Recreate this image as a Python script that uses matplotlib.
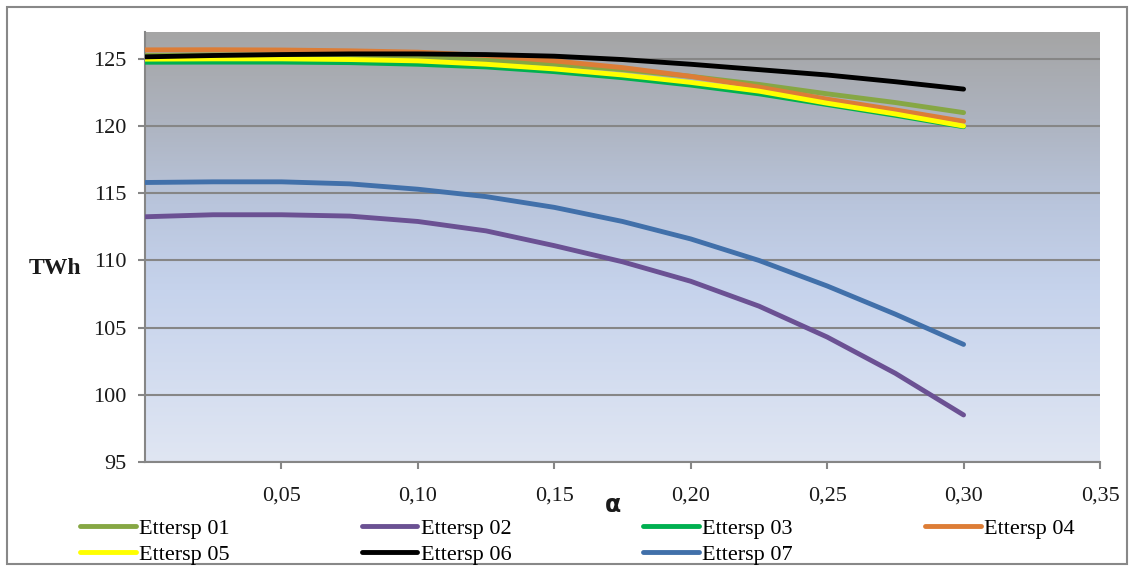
import numpy as np
import matplotlib.pyplot as plt
from matplotlib.colors import LinearSegmentedColormap
from matplotlib.patches import Rectangle

# Datos: energía (TWh) en función de alfa para cada escenario
alfa = [0.0, 0.025, 0.05, 0.075, 0.10, 0.125, 0.15, 0.175, 0.20, 0.225, 0.25, 0.275, 0.30]

ettersp_01 = [125.25, 125.3, 125.3, 125.25, 125.1, 124.9, 124.6, 124.2, 123.7, 123.1, 122.4, 121.75, 121.0]
ettersp_02 = [113.25, 113.4, 113.4, 113.3, 112.9, 112.2, 111.1, 109.9, 108.45, 106.6, 104.3, 101.6, 98.5]
ettersp_03 = [124.75, 124.76, 124.76, 124.72, 124.6, 124.4, 124.05, 123.6, 123.05, 122.4, 121.6, 120.8, 119.95]
ettersp_04 = [125.67, 125.68, 125.66, 125.6, 125.5, 125.25, 124.85, 124.35, 123.7, 122.9, 122.0, 121.2, 120.35]
ettersp_05 = [124.98, 125.0, 125.0, 124.95, 124.85, 124.6, 124.25, 123.8, 123.25, 122.6, 121.7, 120.9, 120.0]
ettersp_06 = [125.15, 125.25, 125.32, 125.37, 125.37, 125.32, 125.2, 124.95, 124.6, 124.2, 123.8, 123.3, 122.75]
ettersp_07 = [115.8, 115.85, 115.85, 115.7, 115.3, 114.75, 113.95, 112.9, 111.6, 110.0, 108.1, 106.0, 103.75]

series = [ettersp_01, ettersp_02, ettersp_03, ettersp_04, ettersp_05, ettersp_06, ettersp_07]
nombres = ['Ettersp 01', 'Ettersp 02', 'Ettersp 03', 'Ettersp 04',
           'Ettersp 05', 'Ettersp 06', 'Ettersp 07']
colores = ['#86a744', '#6b5193', '#00b050', '#dd7d36', '#ffff00', '#000000', '#4170aa']

x_ticks = [0.05, 0.10, 0.15, 0.20, 0.25, 0.30, 0.35]
y_ticks = [95, 100, 105, 110, 115, 120, 125]

plt.rcParams['font.family'] = ['Liberation Serif', 'DejaVu Serif']

W, H = 1134, 566
fig = plt.figure(figsize=(W / 100, H / 100), dpi=100)
ax = fig.add_axes([145 / W, 104 / H, 955 / W, 430 / H])

# Fondo degradado (gris arriba, azul claro abajo)
cmap = LinearSegmentedColormap.from_list('fondo', [
    (0.0, '#e0e6f3'), (0.4, '#c6d3ec'), (0.6, '#b9c5dc'),
    (0.8, '#adb3bf'), (1.0, '#a5a5a5')])
grad = np.linspace(0, 1, 256).reshape(-1, 1)
ax.imshow(grad, cmap=cmap, origin='lower', aspect='auto',
          extent=[0, 1, 0, 1], transform=ax.transAxes, zorder=0)

# Líneas
lineas = []
for vals, nombre, color in zip(series, nombres, colores):
    ln, = ax.plot(alfa, vals, color=color, linewidth=3.5, label=nombre,
                  solid_capstyle='round', solid_joinstyle='round', zorder=3)
    lineas.append(ln)

ax.set_xlim(0, 0.35)
ax.set_ylim(95, 127)
ax.set_xticks(x_ticks)
ax.set_xticklabels([f'{v:.2f}'.replace('.', ',') for v in x_ticks])
ax.set_yticks(y_ticks)

ax.grid(axis='y', color='#868686', linewidth=1.5, zorder=1)
ax.set_axisbelow(True)
for s in ['top', 'right']:
    ax.spines[s].set_visible(False)
for s in ['left', 'bottom']:
    ax.spines[s].set_color('#868686')
    ax.spines[s].set_linewidth(1.5)
ax.tick_params(axis='both', direction='out', color='#868686', width=1.5,
               length=5, labelsize=16, labelcolor='#1a1a1a')
ax.tick_params(axis='x', pad=13)
ax.tick_params(axis='y', pad=8)

# Etiquetas de ejes
fig.text(55 / W, 1 - 268 / H, 'TWh', fontsize=17, fontweight='bold',
         ha='center', va='center', color='#1a1a1a')
fig.text(613 / W, 1 - 505 / H, 'α', fontsize=17, fontweight='bold',
         family='DejaVu Sans', ha='center', va='center', color='#1a1a1a')

# Leyenda en dos filas (orden por filas)
orden = [0, 4, 1, 5, 2, 6, 3]
fig.legend([lineas[i] for i in orden], [nombres[i] for i in orden],
           ncol=4, loc='upper left', bbox_to_anchor=(80 / W, 1 - 518 / H),
           frameon=False, fontsize=16, handlelength=2.5, handletextpad=0.15,
           columnspacing=5.95, labelspacing=0.25, borderpad=0, borderaxespad=0)

# Borde exterior
fig.patches.append(Rectangle((7 / W, 2 / H), 1120 / W, 557 / H,
                             transform=fig.transFigure, fill=False,
                             edgecolor='#888888', linewidth=1.5))

plt.savefig('out.png', dpi=100)
